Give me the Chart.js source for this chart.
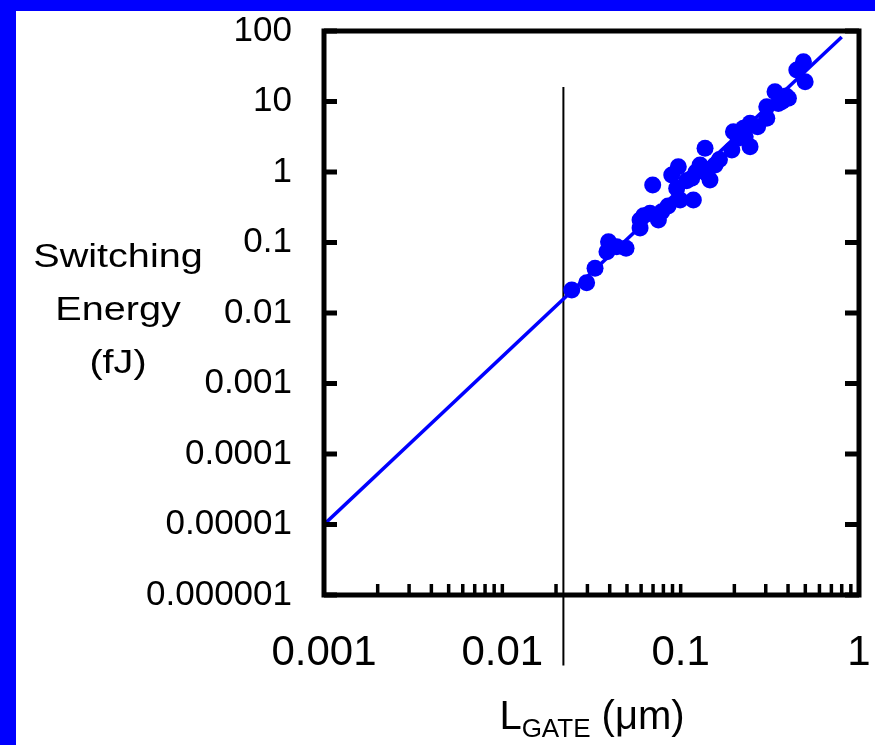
<!DOCTYPE html>
<html>
<head>
<meta charset="utf-8">
<script src="https://cdn.jsdelivr.net/npm/chart.js@4.4.1/dist/chart.umd.min.js"></script>
<style>
  html, body { margin: 0; padding: 0; }
  body {
    width: 875px; height: 745px; position: relative; overflow: hidden;
    background: #0000ff; font-family: "Liberation Sans", Arial, sans-serif; color: #000;
  }
  #panel { position: absolute; left: 16px; top: 11px; right: 0; bottom: 0; background: #fff; }
  #chart { position: absolute; left: 0; top: 0; }
  #ytitle {
    position: absolute; left: 118px; top: 229px;
    transform: translateX(-50%) scaleX(1.2);
    text-align: center; font-size: 33px; line-height: 53px; white-space: nowrap;
  }
  #xtitle {
    position: absolute; left: 592px; top: 691px;
    transform: translateX(-50%);
    font-size: 40px; line-height: 48px; white-space: nowrap;
  }
  #xtitle span { font-size: 26px; position: relative; top: 8px; }
</style>
</head>
<body>
<div id="panel"></div>
<canvas id="chart" width="875" height="745"></canvas>
<div id="ytitle">Switching<br>Energy<br>(fJ)</div>
<div id="xtitle">L<span>GATE</span> (μm)</div>
<script>
// measured devices: gate length (um) vs switching energy (fJ)
const gateLength = [0.0245, 0.0297, 0.0331, 0.0394, 0.0386, 0.0438, 0.0494, 0.0592, 0.0592, 0.0673,
  0.075, 0.0783, 0.0697, 0.0891, 0.097, 0.0993, 0.095, 0.1178, 0.1153, 0.1285,
  0.137, 0.146, 0.156, 0.140, 0.1936, 0.1977, 0.225, 0.245, 0.245, 0.23,
  0.304, 0.304, 0.338, 0.353, 0.402, 0.448, 0.488, 0.499, 0.39,
  0.062, 0.085, 0.108, 0.122, 0.165, 0.21, 0.27, 0.37];
const switchEnergy = [0.0212, 0.0269, 0.0431, 0.1026, 0.0741, 0.0871, 0.0828, 0.2085, 0.161, 0.259,
  0.2085, 0.2735, 0.655, 0.906, 1.19, 0.401, 0.587, 0.401, 0.815, 1.256,
  2.17, 0.771, 1.256, 0.96, 2.05, 3.73, 4.17, 4.91, 2.29, 3.17,
  5.78, 8.44, 13.8, 9.4, 11.1, 28.0, 36.7, 19.1, 12,
  0.24, 0.33, 0.75, 1.0, 1.5, 3.0, 4.4, 10.0];

// trend line end points
const fitX = [0.001, 0.8];
const fitY = [0.00001, 82];

// vertical marker line
const limitX = [0.022, 0.022];
const limitY = [16, 0.0000001];

// axes
const xTickVals = [0.001, 0.01, 0.1, 1];
const xTickLabels = ['0.001', '0.01', '0.1', '1'];
const yTickVals = [100, 10, 1, 0.1, 0.01, 0.001, 0.0001, 0.00001, 0.000001];
const yTickLabels = ['100', '10', '1', '0.1', '0.01', '0.001', '0.0001', '0.00001', '0.000001'];
const xDecades = [0.001, 0.01, 0.1];
const xMinorSteps = [1, 2, 3, 4, 5, 6, 7, 8, 9];

const toPoints = (xs, ys) => xs.map((v, i) => ({ x: v, y: ys[i] }));

// box frame + inward tick marks
const frameTicks = {
  id: 'frameTicks',
  afterDatasetsDraw(chart) {
    const { ctx, chartArea: a } = chart;
    const x = chart.scales.x, y = chart.scales.y;
    ctx.save();
    ctx.strokeStyle = '#000';
    ctx.lineCap = 'butt';

    ctx.lineWidth = 5;
    yTickVals.forEach(v => {
      const py = y.getPixelForValue(v);
      ctx.beginPath();
      ctx.moveTo(a.left, py); ctx.lineTo(a.left + 13, py);
      ctx.moveTo(a.right, py); ctx.lineTo(a.right - 14, py);
      ctx.stroke();
    });

    ctx.lineWidth = 3.5;
    xDecades.forEach(d => {
      xMinorSteps.forEach(m => {
        const px = x.getPixelForValue(d * m);
        ctx.beginPath();
        ctx.moveTo(px, a.bottom); ctx.lineTo(px, a.bottom - 11);
        ctx.stroke();
      });
    });

    ctx.lineWidth = 5;
    ctx.strokeRect(a.left, a.top, a.right - a.left, a.bottom - a.top);
    ctx.restore();
  }
};

const ctx = document.getElementById('chart').getContext('2d');

new Chart(ctx, {
  type: 'scatter',
  data: {
    datasets: [
      {
        label: 'Devices',
        data: toPoints(gateLength, switchEnergy),
        backgroundColor: '#0000ff',
        borderWidth: 0,
        pointRadius: 8.5,
        pointHoverRadius: 8.5
      },
      {
        label: 'Trend',
        data: toPoints(fitX, fitY),
        showLine: true,
        borderColor: '#0000ff',
        borderWidth: 3.5,
        pointRadius: 0
      },
      {
        label: 'Limit',
        data: toPoints(limitX, limitY),
        showLine: true,
        borderColor: '#000',
        borderWidth: 2,
        pointRadius: 0,
        clip: false
      }
    ]
  },
  options: {
    responsive: false,
    animation: false,
    events: [],
    layout: { padding: { left: 0, top: 31, right: 16, bottom: 0 } },
    plugins: {
      legend: { display: false },
      tooltip: { enabled: false }
    },
    scales: {
      x: {
        type: 'logarithmic',
        min: 0.001,
        max: 1,
        grid: { display: false, drawTicks: false },
        border: { display: false },
        afterBuildTicks: s => { s.ticks = xTickVals.map(v => ({ value: v })); },
        afterFit: s => {
          s.height = 150;
          s.paddingLeft = 0;
          s.paddingRight = 0;
        },
        ticks: {
          autoSkip: false,
          maxRotation: 0,
          padding: 33,
          color: '#000',
          font: { family: 'Liberation Sans', size: 42 },
          callback: (v, i) => xTickLabels[i]
        }
      },
      y: {
        type: 'logarithmic',
        min: 0.000001,
        max: 100,
        grid: { display: false, drawTicks: false },
        border: { display: false },
        afterBuildTicks: s => { s.ticks = yTickVals.map(v => ({ value: v })); },
        afterFit: s => {
          s.width = 324;
          s.paddingTop = 0;
          s.paddingBottom = 0;
        },
        ticks: {
          autoSkip: false,
          padding: 32,
          color: '#000',
          font: { family: 'Liberation Sans', size: 35 },
          callback: (v, i) => yTickLabels[i]
        }
      }
    }
  },
  plugins: [frameTicks]
});
</script>
</body>
</html>
